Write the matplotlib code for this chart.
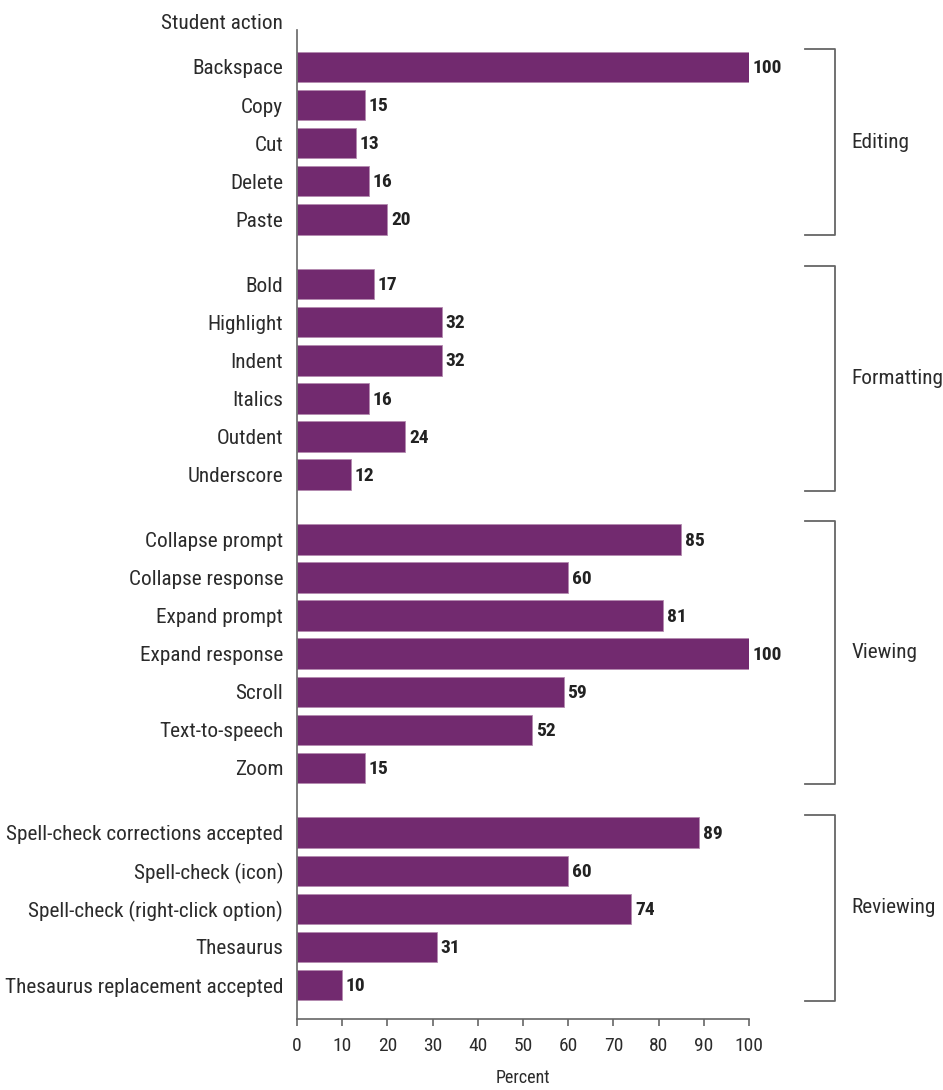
import matplotlib.pyplot as plt
from matplotlib import font_manager

# data
groups = ['Editing', 'Formatting', 'Viewing', 'Reviewing']
actions = [
    ['Backspace', 'Copy', 'Cut', 'Delete', 'Paste'],
    ['Bold', 'Highlight', 'Indent', 'Italics', 'Outdent', 'Underscore'],
    ['Collapse prompt', 'Collapse response', 'Expand prompt', 'Expand response',
     'Scroll', 'Text-to-speech', 'Zoom'],
    ['Spell-check corrections accepted', 'Spell-check (icon)',
     'Spell-check (right-click option)', 'Thesaurus', 'Thesaurus replacement accepted'],
]
percents = [
    [100, 15, 13, 16, 20],
    [17, 32, 32, 16, 24, 12],
    [85, 60, 81, 100, 59, 52, 15],
    [89, 60, 74, 31, 10],
]
xticks = [0, 10, 20, 30, 40, 50, 60, 70, 80, 90, 100]

# condensed font if one is there
names = set(f.name for f in font_manager.fontManager.ttflist)
font = 'DejaVu Sans'
for cand in ['Roboto Condensed', 'Archivo Narrow', 'PT Sans Narrow', 'Open Sans Condensed',
             'Liberation Sans Narrow', 'Oswald']:
    if cand in names:
        font = cand
        break
plt.rcParams['font.family'] = [font, 'DejaVu Sans']

bar_color = '#722a6f'
text_color = '#2b2b2b'
line_color = '#666666'
gap = 1.7

fig = plt.figure(figsize=(9.43, 10.9), dpi=100)
ax = fig.add_axes([297/943, 1 - 1019/1090, 452/943, 989/1090])

pos = 0.0
ypos, labels, spans = [], [], []
for names_g, vals in zip(actions, percents):
    start = pos
    for n, v in zip(names_g, vals):
        ypos.append(pos)
        labels.append(n)
        ax.barh(pos, v, height=0.8, color=bar_color, edgecolor='#b48ab0', linewidth=0.6)
        ax.text(v + 0.8, pos + 0.03, str(v), va='center', ha='left', fontsize=14,
                fontweight='bold', color='#222222')
        pos += 1
    spans.append((start, pos - 1))
    pos += gap - 1

ax.set_ylim(24.99, -0.97)
ax.set_xlim(0, 100)
ax.set_yticks(ypos)
ax.set_yticklabels(labels, fontsize=15.3, color=text_color)
ax.tick_params(axis='y', length=0, pad=10)
ax.set_xticks(xticks)
ax.tick_params(axis='x', labelsize=14, labelcolor=text_color, color=line_color,
               length=5, width=1.2, direction='out', pad=8)
ax.set_xlabel('Percent', fontsize=13, color=text_color, labelpad=10)
for s in ['top', 'right']:
    ax.spines[s].set_visible(False)
for s in ['left', 'bottom']:
    ax.spines[s].set_color(line_color)
    ax.spines[s].set_linewidth(1.2)

ax.text(-3.1, -1.15, 'Student action', ha='right', va='center', fontsize=15.3,
        color=text_color, clip_on=False)

# group brackets
for g, (a, b) in zip(groups, spans):
    top, bot = a - 0.47, b + 0.42
    ax.plot([112.4, 119, 119, 112.4], [top, top, bot, bot], color=line_color,
            lw=1.3, clip_on=False)
    ax.text(122.6, (top + bot) / 2, g, ha='left', va='center', fontsize=15.3,
            color=text_color, clip_on=False)

fig.savefig('out.png', dpi=100)
